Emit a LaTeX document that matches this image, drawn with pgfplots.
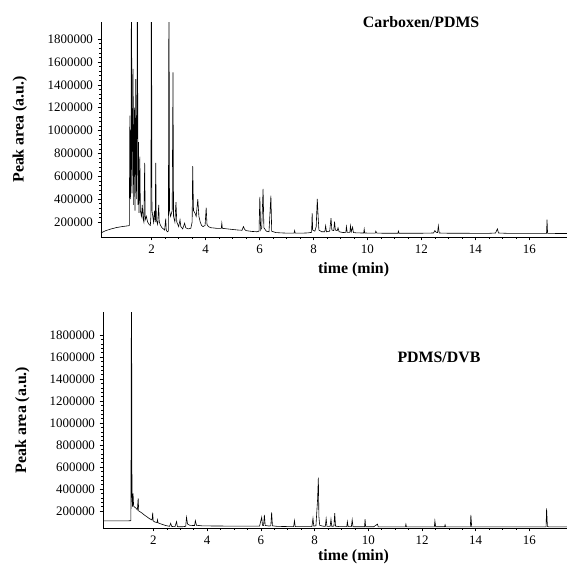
\documentclass[border=0pt]{standalone}
\usepackage{pgfplots}
\pgfplotsset{compat=1.18}
\usepackage{fontspec}
\setmainfont{Liberation Serif}

\pgfplotstableread{
t v
0.12 105000
0.3 125000
0.5 140000
0.7 152000
0.9 160000
1.15 168000
1.17 170000
1.19 1130000
1.21 400000
1.23 600000
1.25 2500000
1.27 450000
1.29 900000
1.31 1540000
1.33 350000
1.36 1200000
1.38 300000
1.41 1450000
1.43 400000
1.45 700000
1.47 2500000
1.49 350000
1.51 900000
1.53 280000
1.56 772000
1.58 300000
1.62 250000
1.65 350000
1.68 230000
1.71 200000
1.74 717000
1.76 220000
1.80 250000
1.85 200000
1.90 180000
1.95 170000
1.97 250000
1.99 2500000
2.01 300000
2.04 250000
2.07 200000
2.10 300000
2.13 200000
2.15 717000
2.17 220000
2.22 180000
2.26 350000
2.28 200000
2.33 170000
2.38 150000
2.43 140000
2.48 130000
2.52 230000
2.54 130000
2.58 115000
2.62 120000
2.64 2500000
2.66 300000
2.70 250000
2.76 300000
2.79 1510000
2.81 250000
2.86 200000
2.90 375000
2.93 200000
3.00 160000
3.05 220000
3.08 160000
3.15 140000
3.22 190000
3.26 150000
3.35 140000
3.45 145000
3.50 200000
3.52 690000
3.55 300000
3.60 280000
3.65 250000
3.71 400000
3.75 250000
3.80 200000
3.85 170000
3.90 160000
3.98 170000
4.02 325000
4.05 180000
4.10 160000
4.2 150000
4.3 148000
4.4 145000
4.58 145000
4.60 190000
4.62 145000
4.8 140000
5.0 135000
5.2 130000
5.35 128000
5.40 160000
5.45 135000
5.5 125000
5.7 118000
5.9 115000
5.98 120000
6.01 420000
6.04 130000
6.08 150000
6.13 490000
6.16 150000
6.25 120000
6.35 115000
6.42 430000
6.45 120000
6.6 108000
6.8 105000
7.0 103000
7.28 103000
7.30 125000
7.32 103000
7.6 103000
7.8 105000
7.93 110000
7.95 278000
7.97 130000
8.05 120000
8.10 160000
8.14 403000
8.17 254000
8.20 130000
8.30 115000
8.42 115000
8.45 167000
8.48 115000
8.60 120000
8.65 234000
8.68 130000
8.75 125000
8.78 204000
8.81 130000
8.88 125000
8.91 150000
8.95 115000
9.1 108000
9.20 110000
9.22 160000
9.25 110000
9.35 110000
9.37 167000
9.40 115000
9.45 155000
9.48 108000
9.6 105000
9.86 104000
9.88 138000
9.90 104000
10.1 103000
10.29 103000
10.31 120000
10.35 103000
10.6 102000
11.13 102000
11.15 120000
11.17 102000
11.6 102000
12.0 102000
12.45 104000
12.5 125000
12.55 110000
12.60 108000
12.63 167000
12.66 104000
13.0 102000
13.5 102000
14.0 101000
14.5 101000
14.75 104000
14.82 140000
14.86 104000
15.2 101000
15.8 101000
16.3 101000
16.64 101000
16.66 220000
16.68 101000
17.0 100000
17.4 100000
}\carboxen

\pgfplotstableread{
t v
0.13 110000
0.6 110000
1.0 110000
1.14 111000
1.16 112000
1.18 2500000
1.20 330000
1.22 240000
1.24 361000
1.26 245000
1.30 235000
1.35 225000
1.40 210000
1.43 315000
1.45 200000
1.55 185000
1.65 165000
1.75 148000
1.85 130000
1.95 118000
1.97 184000
1.99 110000
2.05 100000
2.13 95000
2.15 120000
2.17 92000
2.3 80000
2.45 68000
2.60 60000
2.64 88000
2.68 59000
2.80 57000
2.86 103000
2.89 57000
3.0 56000
3.1 57000
3.20 60000
3.23 143000
3.27 80000
3.35 70000
3.45 68000
3.53 68000
3.56 112000
3.60 70000
3.8 65000
4.0 64000
4.5 63000
5.0 62000
5.5 62000
5.95 62000
6.03 143000
6.06 70000
6.10 68000
6.13 164000
6.16 68000
6.30 63000
6.37 65000
6.40 188000
6.43 65000
6.6 60000
7.0 58000
7.22 58000
7.25 112000
7.28 58000
7.6 57000
7.9 58000
7.94 133000
7.97 62000
8.05 65000
8.11 300000
8.14 503000
8.16 150000
8.19 70000
8.30 62000
8.40 60000
8.43 130000
8.46 60000
8.58 60000
8.61 125000
8.64 60000
8.72 62000
8.75 180000
8.78 62000
8.9 58000
9.2 58000
9.22 103000
9.25 57000
9.37 57000
9.40 120000
9.43 57000
9.6 56000
9.86 56000
9.88 125000
9.90 56000
10.2 56000
10.34 80000
10.37 56000
10.8 55000
11.38 55000
11.40 80000
11.42 55000
12.0 55000
12.46 56000
12.48 110000
12.51 56000
12.84 56000
12.86 75000
12.88 56000
13.3 55000
13.80 55000
13.82 164000
13.85 55000
14.5 55000
15.5 55000
16.62 55000
16.64 224000
16.67 60000
16.72 55000
17.0 55000
17.4 55000
}\pdmsdvb

\pgfplotsset{
  chrom/.style={
    scale only axis,
    axis x line*=bottom,
    axis y line*=left,
    xmin=0.12, xmax=17.4,
    xtick={2,4,...,16},
    ytick={200000,400000,...,1800000},
    yticklabels={200000,400000,600000,800000,1000000,1200000,1400000,1600000,1800000},
    scaled y ticks=false,
    minor x tick num=3,
    minor y tick num=4,
    tick align=outside,
    major tick length=2.5pt,
    minor tick length=1.2pt,
    every tick/.style={black, line width=0.4pt},
    axis line style={line width=0.6pt},
    tick label style={font=\fontsize{9.7}{11}\selectfont},
    /pgf/number format/assume math mode=true,
    xlabel={time (min)},
    ylabel={Peak area (a.u.)},
    label style={font=\fontsize{11.9}{13}\selectfont\bfseries},
    ylabel style={at={(axis description cs:-0.174,0.5)}, anchor=center},
    clip mode=individual,
  }
}

\begin{document}
\begin{tikzpicture}
\path[use as bounding box] (-75.75pt,-246pt) rectangle (349.5pt,177.75pt);
\begin{axis}[chrom,
  at={(0pt,0pt)}, anchor=south west,
  width=349.5pt, height=161.25pt,
  ymin=69000, ymax=1950000,
  xlabel style={at={(axis description cs:0.542,-0.153)}, anchor=center},
]
\addplot[black, line width=0.45pt] table[x=t, y=v] {\carboxen};
\node[font=\fontsize{11.9}{13}\selectfont\bfseries] at (axis description cs:0.687,1.0) {Carboxen/PDMS};
\end{axis}
\begin{axis}[chrom,
  at={(1.5pt,-218.25pt)}, anchor=south west,
  width=348pt, height=162pt,
  ymin=45000, ymax=2010000,
  xlabel style={at={(axis description cs:0.54,-0.134)}, anchor=center},
]
\addplot[black, line width=0.45pt] table[x=t, y=v] {\pdmsdvb};
\node[font=\fontsize{11.9}{13}\selectfont\bfseries] at (axis description cs:0.724,0.788) {PDMS/DVB};
\end{axis}
\end{tikzpicture}
\end{document}
